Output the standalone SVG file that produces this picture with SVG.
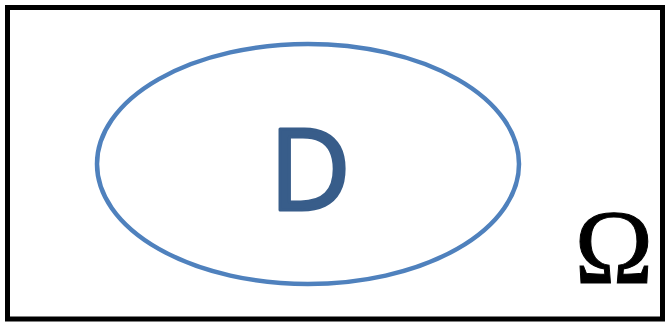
<svg xmlns="http://www.w3.org/2000/svg" width="666" height="322" viewBox="0 0 666 322">
<style>
.frame{fill:#ffffff;stroke:#000000;stroke-width:5}
.set{fill:none;stroke:#4f81bd;stroke-width:4.5}
.lbl{font-family:"Open Sans","Liberation Sans",sans-serif;fill:#385d8a;stroke:#385d8a;stroke-width:3;stroke-linejoin:round}
.omega{font-family:"Liberation Serif",serif;fill:#000000;stroke:#000000;stroke-width:1}
</style>
<rect class="frame" x="7.5" y="7.5" width="655" height="311.5"/>
<g id="D">
<ellipse class="set" cx="308" cy="164" rx="211" ry="120"/>
<text class="lbl" x="310" y="210" font-size="113" text-anchor="middle">D</text>
</g>
<g id="Omega">
<text class="omega" x="614" y="283" font-size="106" text-anchor="middle">Ω</text>
</g>
<g id="connectors"/>
</svg>
